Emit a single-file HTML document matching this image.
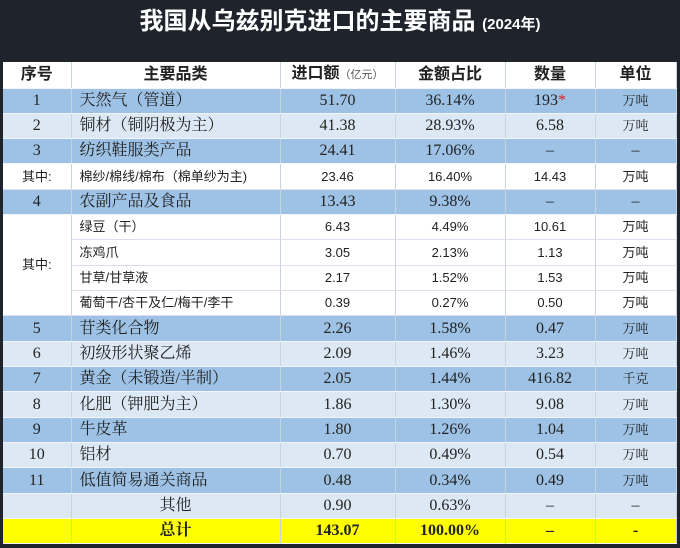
<!DOCTYPE html>
<html><head><meta charset="utf-8"><style>
body{margin:0;width:680px;height:548px;background:#1e232c;overflow:hidden;position:relative;font-family:"Liberation Serif","Noto Serif CJK SC",serif;}
.title{position:absolute;left:0;top:0;width:680px;height:62px;text-align:center;color:#fff;font-family:"Liberation Sans","Noto Sans CJK SC",sans-serif;font-weight:bold;font-size:24px;line-height:44px;}
.title small{font-size:15px;}
table{position:absolute;left:3px;top:62px;width:673px;border-collapse:collapse;table-layout:fixed;}
tr{height:25.33px;}
td{padding:0;height:24.33px;line-height:20px;text-align:center;border-right:1px solid #c9d3de;border-bottom:1px solid #f2f5f9;font-size:16px;color:#222;white-space:nowrap;overflow:hidden;}
td.l{text-align:left;padding-left:8px;}
tr.h{height:26px;}
tr.h td{height:25px;background:#fff;font-family:"Liberation Sans","Noto Sans CJK SC",sans-serif;font-weight:bold;font-size:16px;}
tr.h small{font-weight:normal;font-size:11px;color:#555;}
tr.b td{background:#9dc2e5;}
tr.w td{background:#dce8f4;}
tr.s td{background:#fff;font-family:"Liberation Sans","Noto Sans CJK SC",sans-serif;font-size:13px;border-bottom:1px solid #dde;}
tr.y td{background:#ffff00;font-weight:bold;}
.u{font-size:13px;}
.r{color:#e02020;}
</style></head><body>
<div class="title">我国从乌兹别克进口的主要商品 <small>(2024年)</small></div>
<table>
<colgroup><col style="width:68px"><col style="width:209px"><col style="width:115px"><col style="width:110px"><col style="width:90px"><col style="width:81px"></colgroup>
<tr class="h"><td>序号</td><td>主要品类</td><td>进口额<small>（亿元）</small></td><td>金额占比</td><td>数量</td><td>单位</td></tr>
<tr class="b"><td>1</td><td class="l">天然气（管道）</td><td>51.70</td><td>36.14%</td><td>193<span class="r">*</span></td><td class="u">万吨</td></tr>
<tr class="w"><td>2</td><td class="l">铜材（铜阴极为主）</td><td>41.38</td><td>28.93%</td><td>6.58</td><td class="u">万吨</td></tr>
<tr class="b"><td>3</td><td class="l">纺织鞋服类产品</td><td>24.41</td><td>17.06%</td><td>–</td><td>–</td></tr>
<tr class="s"><td>其中:</td><td class="l">棉纱/棉线/棉布（棉单纱为主)</td><td>23.46</td><td>16.40%</td><td>14.43</td><td>万吨</td></tr>
<tr class="b"><td>4</td><td class="l">农副产品及食品</td><td>13.43</td><td>9.38%</td><td>–</td><td>–</td></tr>
<tr class="s"><td rowspan="4">其中:</td><td class="l">绿豆（干）</td><td>6.43</td><td>4.49%</td><td>10.61</td><td>万吨</td></tr>
<tr class="s"><td class="l">冻鸡爪</td><td>3.05</td><td>2.13%</td><td>1.13</td><td>万吨</td></tr>
<tr class="s"><td class="l">甘草/甘草液</td><td>2.17</td><td>1.52%</td><td>1.53</td><td>万吨</td></tr>
<tr class="s"><td class="l">葡萄干/杏干及仁/梅干/李干</td><td>0.39</td><td>0.27%</td><td>0.50</td><td>万吨</td></tr>
<tr class="b"><td>5</td><td class="l">苷类化合物</td><td>2.26</td><td>1.58%</td><td>0.47</td><td class="u">万吨</td></tr>
<tr class="w"><td>6</td><td class="l">初级形状聚乙烯</td><td>2.09</td><td>1.46%</td><td>3.23</td><td class="u">万吨</td></tr>
<tr class="b"><td>7</td><td class="l">黄金（未锻造/半制）</td><td>2.05</td><td>1.44%</td><td>416.82</td><td class="u">千克</td></tr>
<tr class="w"><td>8</td><td class="l">化肥（钾肥为主）</td><td>1.86</td><td>1.30%</td><td>9.08</td><td class="u">万吨</td></tr>
<tr class="b"><td>9</td><td class="l">牛皮革</td><td>1.80</td><td>1.26%</td><td>1.04</td><td class="u">万吨</td></tr>
<tr class="w"><td>10</td><td class="l">铝材</td><td>0.70</td><td>0.49%</td><td>0.54</td><td class="u">万吨</td></tr>
<tr class="b"><td>11</td><td class="l">低值简易通关商品</td><td>0.48</td><td>0.34%</td><td>0.49</td><td class="u">万吨</td></tr>
<tr class="w"><td></td><td>其他</td><td>0.90</td><td>0.63%</td><td>–</td><td>–</td></tr>
<tr class="y"><td></td><td>总计</td><td>143.07</td><td>100.00%</td><td>–</td><td>-</td></tr>
</table>
</body></html>
